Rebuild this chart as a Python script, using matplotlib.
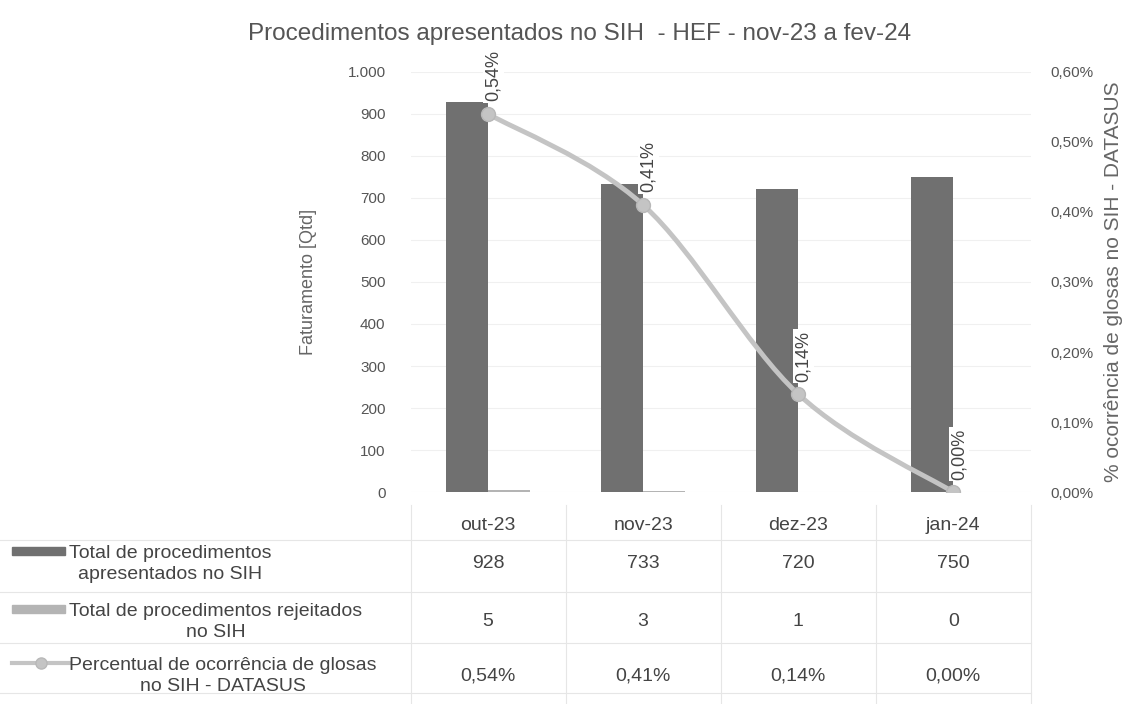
import numpy as np
import matplotlib
matplotlib.use('Agg')
import matplotlib.pyplot as plt
from matplotlib.path import Path
from matplotlib.patches import PathPatch, Rectangle
from matplotlib.lines import Line2D
from matplotlib.ticker import FuncFormatter

meses = ['out-23', 'nov-23', 'dez-23', 'jan-24']
total_apresentados = [928, 733, 720, 750]
total_rejeitados = [5, 3, 1, 0]
perc_glosas = [0.54, 0.41, 0.14, 0.00]  # em %

serie_nomes = ['Total de procedimentos\napresentados no SIH',
               'Total de procedimentos rejeitados\nno SIH',
               'Percentual de ocorrência de glosas\nno SIH - DATASUS']

cor_total = '#707070'
cor_rej = '#b4b4b4'
cor_linha = '#c4c4c4'
cor_txt = '#444444'

plt.rcParams['font.family'] = ['Liberation Sans', 'DejaVu Sans']

fig = plt.figure(figsize=(11.34, 7.04), dpi=100)
ax = fig.add_axes([0.362, 0.301, 0.547, 0.597])
ax2 = ax.twinx()

x = np.arange(len(meses))
w = 0.27
ax.bar(x - w / 2, total_apresentados, w, color=cor_total, zorder=2)
ax.bar(x + w / 2, total_rejeitados, w, color=cor_rej, zorder=2)

ax.set_ylim(0, 1000)
ax.set_xlim(-0.5, len(meses) - 0.5)
ax.set_yticks(range(0, 1001, 100))
ax.yaxis.set_major_formatter(FuncFormatter(lambda v, p: f'{int(v):,}'.replace(',', '.')))
ax.set_xticks([])
ax.grid(axis='y', color='#f0f0f0', lw=0.8, zorder=0)
ax.set_ylabel('Faturamento [Qtd]', color='#666666', fontsize=13, labelpad=22)

# linha suavizada (Catmull-Rom -> Bezier)
px = list(x)
py = perc_glosas
verts = [(px[0], py[0])]
codes = [Path.MOVETO]
for i in range(len(px) - 1):
    p0 = (px[max(i - 1, 0)], py[max(i - 1, 0)])
    p1 = (px[i], py[i])
    p2 = (px[i + 1], py[i + 1])
    p3 = (px[min(i + 2, len(px) - 1)], py[min(i + 2, len(px) - 1)])
    c1 = (p1[0] + (p2[0] - p0[0]) / 6, p1[1] + (p2[1] - p0[1]) / 6)
    c2 = (p2[0] - (p3[0] - p1[0]) / 6, p2[1] - (p3[1] - p1[1]) / 6)
    verts += [c1, c2, p2]
    codes += [Path.CURVE4] * 3
ax2.add_patch(PathPatch(Path(verts, codes), fc='none', ec=cor_linha, lw=3.5, zorder=3))
ax2.plot(x, perc_glosas, 'o', color=cor_linha, ms=10, mec='#b8b8b8', zorder=4)
for xi, v in zip(x, perc_glosas):
    ax2.annotate(f'{v:.2f}%'.replace('.', ','), (xi, v), xytext=(4, 9),
                 textcoords='offset points', rotation=90, ha='center', va='bottom',
                 fontsize=13, color=cor_txt,
                 bbox=dict(boxstyle='square,pad=0.1', fc='white', ec='none'), zorder=5)

ax2.set_ylim(0, 0.6)
ax2.set_yticks(np.arange(0, 0.61, 0.1))
ax2.yaxis.set_major_formatter(FuncFormatter(lambda v, p: f'{v:.2f}%'.replace('.', ',')))
ax2.set_ylabel('% ocorrência de glosas no SIH - DATASUS', color='#666666', fontsize=15, labelpad=8)

for a in (ax, ax2):
    for s in a.spines.values():
        s.set_visible(False)
    a.tick_params(length=0, labelsize=11, colors='#555555')
ax.tick_params(pad=18)
ax2.tick_params(pad=14)

fig.suptitle('Procedimentos apresentados no SIH  - HEF - nov-23 a fev-24',
             x=0.511, y=0.968, fontsize=17.5, color='#555555')

# tabela de dados
tb = matplotlib.transforms.blended_transform_factory(ax.transData, fig.transFigure)
y_head = 0.254
y_rows = [0.199, 0.117, 0.040]
y_lines = [0.233, 0.159, 0.087, 0.016]
fs_tab = 14
for xi, m in zip(x, meses):
    fig.text(xi, y_head, m, transform=tb, ha='center', va='center', fontsize=fs_tab, color=cor_txt)
valores = [[str(v) for v in total_apresentados],
           [str(v) for v in total_rejeitados],
           [f'{v:.2f}%'.replace('.', ',') for v in perc_glosas]]
for yr, linha in zip(y_rows, valores):
    for xi, t in zip(x, linha):
        fig.text(xi, yr, t, transform=tb, ha='center', va='center', fontsize=fs_tab, color=cor_txt)

# linhas da tabela
for yl in y_lines:
    fig.add_artist(Line2D([0.0, 0.909], [yl, yl], color='#e6e6e6', lw=0.8))
for xb in np.arange(-0.5, len(meses), 1.0):
    fig.add_artist(Line2D([xb, xb], [0.0, 0.283], transform=tb, color='#e6e6e6', lw=0.8))

# legendas das series
for yr, nome in zip(y_rows, serie_nomes):
    fig.text(0.061, yr, nome, ha='left', va='center', fontsize=fs_tab, color=cor_txt,
             linespacing=1.3, multialignment='center')
fig.add_artist(Rectangle((0.011, y_rows[0] + 0.012), 0.046, 0.012, transform=fig.transFigure,
                         color=cor_total))
fig.add_artist(Rectangle((0.011, y_rows[1] + 0.012), 0.046, 0.012, transform=fig.transFigure,
                         color=cor_rej))
fig.add_artist(Line2D([0.011, 0.061], [y_rows[2] + 0.018] * 2, color=cor_linha, lw=3))
fig.add_artist(Line2D([0.036], [y_rows[2] + 0.018], marker='o', color=cor_linha, ms=8,
                      mec='#b8b8b8'))

fig.savefig('out.png', dpi=100)
